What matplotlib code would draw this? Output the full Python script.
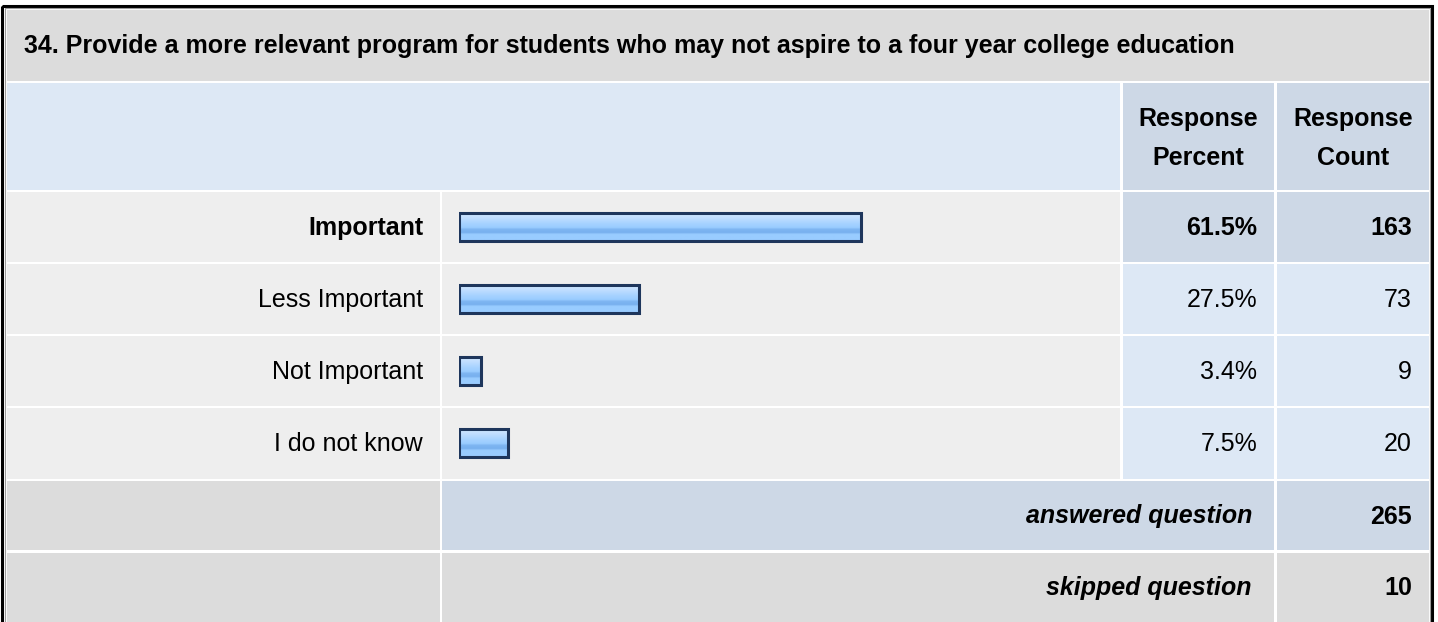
import matplotlib.pyplot as plt
import matplotlib.patches as mpatches
import numpy as np
from matplotlib.colors import LinearSegmentedColormap

plt.rcParams['font.family'] = ['Liberation Sans', 'DejaVu Sans']

title = "34. Provide a more relevant program for students who may not aspire to a four year college education"
categories = ["Important", "Less Important", "Not Important", "I do not know"]
percents = [61.5, 27.5, 3.4, 7.5]
counts = [163, 73, 9, 20]
answered = 265
skipped = 10

W, H = 1438, 622
FS = 18.0
fig = plt.figure(figsize=(W / 100, H / 100), dpi=100)
fig.patch.set_facecolor("white")
ax = fig.add_axes([0, 0, 1, 1])
ax.set_xlim(0, W)
ax.set_ylim(H, 0)
ax.axis("off")

GRAY = "#dcdcdc"
LIGHT = "#eeeeee"
BLUE = "#dde8f5"
DBLUE = "#cdd8e6"


def cell(x0, x1, y0, y1, color):
    ax.add_patch(mpatches.Rectangle((x0, y0), x1 - x0, y1 - y0, facecolor=color,
                                    edgecolor="none", zorder=1))


# column edges
c_lab = (7, 439.5)
c_bar = (442, 1120)
c_pct = (1122.5, 1274)
c_cnt = (1276.5, 1429)
rows = [(192, 261.5), (264, 333.5), (336, 405.5), (408, 478.5), (481, 550), (552.5, 622)]

# outer frame
ax.add_patch(mpatches.Rectangle((2, 5.5), 1430, 640, facecolor="none",
                                edgecolor="black", lw=2.2, zorder=3))
ax.add_patch(mpatches.Rectangle((4.5, 7.5), 1425.5, 640, facecolor="none",
                                edgecolor="#9a9a9a", lw=0.8, zorder=3))

# title row
cell(7, 1429, 9.5, 80.5, GRAY)
ax.text(24, 46, title, fontsize=FS, fontweight="bold", va="center", ha="left", zorder=4)

# header row
cell(7, 1120, 83, 190, BLUE)
cell(*c_pct, 83, 190, DBLUE)
cell(*c_cnt, 83, 190, DBLUE)
for c, word in ((c_pct, "Percent"), (c_cnt, "Count")):
    xm = (c[0] + c[1]) / 2
    ax.text(xm, 119, "Response", fontsize=FS, fontweight="bold", ha="center", va="center", zorder=4)
    ax.text(xm, 158, word, fontsize=FS, fontweight="bold", ha="center", va="center", zorder=4)

# data rows
for i, (lab, p, n) in enumerate(zip(categories, percents, counts)):
    y0, y1 = rows[i]
    ym = (y0 + y1) / 2 + 1
    cell(*c_lab, y0, y1, LIGHT)
    cell(*c_bar, y0, y1, LIGHT)
    top = i == 0
    cell(*c_pct, y0, y1, DBLUE if top else BLUE)
    cell(*c_cnt, y0, y1, DBLUE if top else BLUE)
    fw = "bold" if top else "normal"
    ax.text(423, ym, lab, fontsize=FS, fontweight=fw, ha="right", va="center", zorder=4)
    ax.text(1257, ym, f"{p:.1f}%", fontsize=FS, fontweight=fw, ha="right", va="center", zorder=4)
    ax.text(1412, ym, f"{n}", fontsize=FS, fontweight=fw, ha="right", va="center", zorder=4)

# answered / skipped rows
y0, y1 = rows[4]
cell(*c_lab, y0, y1, GRAY)
cell(c_bar[0], c_pct[1], y0, y1, DBLUE)
cell(*c_cnt, y0, y1, DBLUE)
ax.text(1252, (y0 + y1) / 2 + 1, "answered question", fontsize=FS, fontweight="bold",
        style="italic", ha="right", va="center", zorder=4)
ax.text(1412, (y0 + y1) / 2 + 1, f"{answered}", fontsize=FS, fontweight="bold",
        ha="right", va="center", zorder=4)
y0, y1 = rows[5]
cell(*c_lab, y0, y1, GRAY)
cell(c_bar[0], c_pct[1], y0, y1, GRAY)
cell(*c_cnt, y0, y1, GRAY)
ax.text(1252, (y0 + y1) / 2 + 1, "skipped question", fontsize=FS, fontweight="bold",
        style="italic", ha="right", va="center", zorder=4)
ax.text(1412, (y0 + y1) / 2 + 1, f"{skipped}", fontsize=FS, fontweight="bold",
        ha="right", va="center", zorder=4)

# bar axes: 0..100 % over 654 px starting at x=459
row_c0 = (rows[0][0] + rows[0][1]) / 2
row_c3 = (rows[3][0] + rows[3][1]) / 2
step = (row_c3 - row_c0) / 3
bx0, bw = 459, 654
ylo = row_c3 + step / 2
yhi = row_c0 - step / 2
bax = fig.add_axes([bx0 / W, 1 - ylo / H, bw / W, (ylo - yhi) / H])
bax.set_xlim(0, 100)
bax.set_ylim(len(categories) - 0.5, -0.5)
bax.axis("off")
bax.patch.set_alpha(0)

bh = 28 / step
ypos = np.arange(len(categories))
# subtle shadow
bax.barh(ypos + 0.03, percents, left=0.25, height=bh, color="#9aa6b4", alpha=0.6, zorder=1)
bars = bax.barh(ypos, percents, height=bh, color="#99ccff", edgecolor="#1e365c",
                linewidth=2.2, zorder=3)

grad = LinearSegmentedColormap.from_list("g", [
    (0.0, "#d2e8ff"), (0.2, "#bcdcff"), (0.38, "#a6d2ff"), (0.52, "#99ccff"),
    (0.58, "#7fb6f2"), (0.70, "#77b0ee"), (0.76, "#99ccff"), (1.0, "#99ccff")])
img = np.linspace(0, 1, 64).reshape(-1, 1)
for b, y, p in zip(bars, ypos, percents):
    im = bax.imshow(img, cmap=grad, aspect="auto", extent=(0, p, y + bh / 2, y - bh / 2),
                    zorder=2, interpolation="bilinear")
    im.set_clip_path(b)
    b.set_facecolor("none")

bax.set_xlim(0, 100)
bax.set_ylim(len(categories) - 0.5, -0.5)

fig.savefig("out.png", dpi=100)
